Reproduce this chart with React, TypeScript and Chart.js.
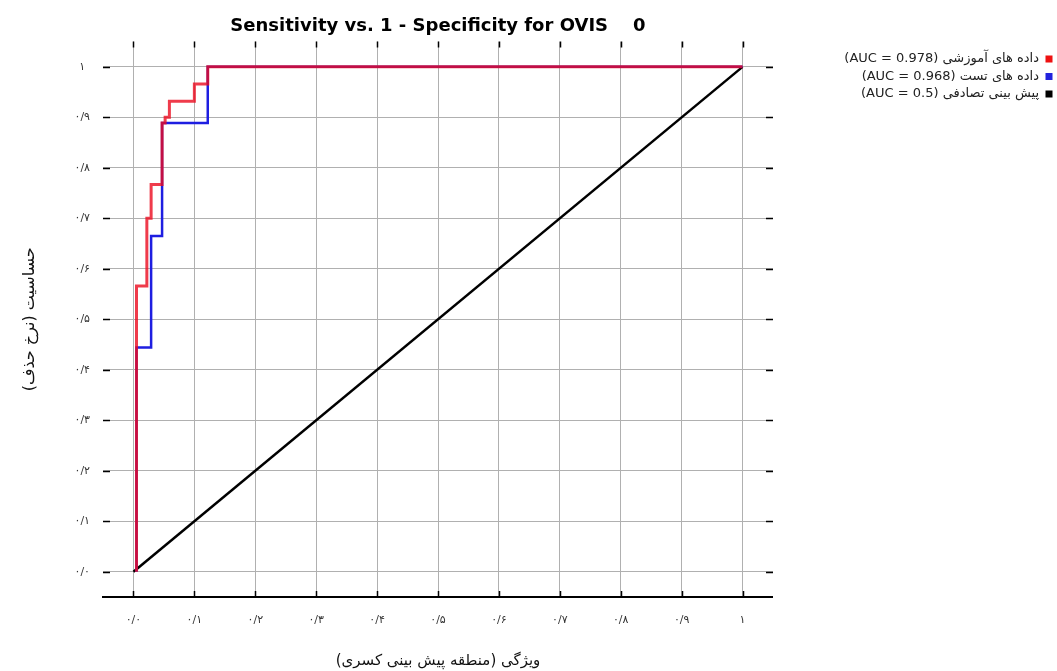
import React, { useEffect, useRef } from 'react';
import { Chart, registerables } from 'chart.js';

Chart.register(...registerables);

const TITLE = 'Sensitivity vs. 1 - Specificity for OVIS    0';
const X_TITLE = 'ویژگی (منطقه پیش بینی کسری)';
const Y_TITLE = 'حساسیت (نرخ حذف)';

const TICK_VALUES = [0, 0.1, 0.2, 0.3, 0.4, 0.5, 0.6, 0.7, 0.8, 0.9, 1];
const TICK_LABELS = ['۰/۰', '۰/۱', '۰/۲', '۰/۳', '۰/۴', '۰/۵', '۰/۶', '۰/۷', '۰/۸', '۰/۹', '۱'];

const SERIES_NAMES = ['داده های آموزشی', 'داده های تست', 'پیش بینی تصادفی'];
const AUC_VALUES = ['0.978', '0.968', '0.5'];

// training ROC (1 - specificity, sensitivity)
const TRAIN_FPR = [0.005, 0.005, 0.022, 0.022, 0.029, 0.029, 0.047, 0.047, 0.052, 0.052, 0.059, 0.059, 0.100, 0.100, 0.122, 0.122, 1.0];
const TRAIN_TPR = [0.0, 0.566, 0.566, 0.700, 0.700, 0.767, 0.767, 0.889, 0.889, 0.900, 0.900, 0.932, 0.932, 0.966, 0.966, 1.0, 1.0];

// test ROC
const TEST_FPR = [0.005, 0.005, 0.029, 0.029, 0.047, 0.047, 0.122, 0.122, 1.0];
const TEST_TPR = [0.0, 0.444, 0.444, 0.665, 0.665, 0.889, 0.889, 1.0, 1.0];

// random prediction
const RANDOM_FPR = [0, 1];
const RANDOM_TPR = [0, 1];

const LINE_COLORS = ['rgba(235, 10, 30, 0.8)', 'rgb(30, 30, 225)', 'rgb(0, 0, 0)'];
const BOX_COLORS = ['#ee1111', '#2222dd', '#000000'];

const W = 1057;
const H = 671;
const PLOT_LEFT = 103;
const PLOT_RIGHT = 773;
const PLOT_BOTTOM = 597;

const toPoints = (xs: number[], ys: number[]) => xs.map((x, i) => ({ x, y: ys[i] }));

const setTicks = (scale: any) => {
  scale.ticks = TICK_VALUES.map((v) => ({ value: v }));
};

const tickMarks = {
  id: 'tickMarks',
  afterDraw(chart: any) {
    const { ctx, chartArea } = chart;
    const { left, right, top, bottom } = chartArea;
    const xs = chart.scales.x;
    const ys = chart.scales.y;
    ctx.save();
    ctx.strokeStyle = '#000';
    ctx.lineWidth = 1.5;
    ctx.beginPath();
    TICK_VALUES.forEach((v) => {
      const px = Math.round(xs.getPixelForValue(v)) + 0.5;
      ctx.moveTo(px, bottom);
      ctx.lineTo(px, bottom - 6);
      ctx.moveTo(px, top);
      ctx.lineTo(px, top + 6);
      const py = Math.round(ys.getPixelForValue(v)) + 0.5;
      ctx.moveTo(left, py);
      ctx.lineTo(left + 7, py);
      ctx.moveTo(right, py);
      ctx.lineTo(right - 7, py);
    });
    ctx.stroke();
    ctx.lineWidth = 2;
    ctx.beginPath();
    ctx.moveTo(left - 1, bottom);
    ctx.lineTo(right, bottom);
    ctx.stroke();
    ctx.restore();
  },
};

export default function App() {
  const ref = useRef<HTMLCanvasElement | null>(null);

  useEffect(() => {
    if (!ref.current) return;
    const chart = new Chart(ref.current, {
      type: 'line',
      data: {
        datasets: [
          {
            label: `${SERIES_NAMES[0]} (AUC = ${AUC_VALUES[0]})`,
            data: toPoints(TRAIN_FPR, TRAIN_TPR),
            borderColor: LINE_COLORS[0],
            backgroundColor: BOX_COLORS[0],
            borderWidth: 3,
          },
          {
            label: `${SERIES_NAMES[1]} (AUC = ${AUC_VALUES[1]})`,
            data: toPoints(TEST_FPR, TEST_TPR),
            borderColor: LINE_COLORS[1],
            backgroundColor: BOX_COLORS[1],
            borderWidth: 2.5,
          },
          {
            label: `${SERIES_NAMES[2]} (AUC = ${AUC_VALUES[2]})`,
            data: toPoints(RANDOM_FPR, RANDOM_TPR),
            borderColor: LINE_COLORS[2],
            backgroundColor: BOX_COLORS[2],
            borderWidth: 2.5,
          },
        ],
      },
      options: {
        animation: false,
        responsive: true,
        maintainAspectRatio: false,
        layout: { padding: 0 },
        elements: {
          point: { radius: 0, hoverRadius: 0 },
          line: { tension: 0, fill: false },
        },
        plugins: {
          tooltip: { enabled: false },
          title: {
            display: true,
            text: TITLE,
            fullSize: false,
            color: '#000',
            font: { family: 'DejaVu Sans, sans-serif', size: 18, weight: 'bold' },
            padding: { top: 16, bottom: 4 },
          },
          legend: {
            position: 'right',
            align: 'start',
            rtl: true,
            textDirection: 'rtl',
            maxWidth: 280,
            title: {
              display: true,
              text: ' ',
              font: { size: 10 },
              padding: { top: 36, bottom: 0 },
            },
            labels: {
              boxWidth: 7,
              boxHeight: 7,
              padding: 4.5,
              color: '#222',
              font: { family: 'DejaVu Sans, sans-serif', size: 13 },
              generateLabels: (c: any) =>
                Chart.defaults.plugins.legend.labels.generateLabels(c).map((l: any, i: number) => ({
                  ...l,
                  fillStyle: BOX_COLORS[i],
                  strokeStyle: BOX_COLORS[i],
                  lineWidth: 0,
                })),
            },
          },
        },
        scales: {
          x: {
            type: 'linear',
            min: -0.05,
            max: 1.05,
            afterBuildTicks: setTicks,
            afterFit: (s: any) => {
              s.height = H - PLOT_BOTTOM;
            },
            grid: { color: '#b0b0b0', lineWidth: 1, drawTicks: false },
            border: { display: false },
            ticks: {
              padding: 17,
              color: '#333',
              font: { family: 'DejaVu Sans, sans-serif', size: 11 },
              maxRotation: 0,
              autoSkip: false,
              callback: (_v: any, i: number) => TICK_LABELS[i],
            },
            title: {
              display: true,
              text: X_TITLE,
              color: '#111',
              font: { family: 'DejaVu Sans, sans-serif', size: 15 },
              padding: { top: 0, bottom: 1 },
            },
          },
          y: {
            type: 'linear',
            min: -0.05,
            max: 1.05,
            afterBuildTicks: setTicks,
            afterFit: (s: any) => {
              s.width = PLOT_LEFT;
            },
            grid: { color: '#b0b0b0', lineWidth: 1, drawTicks: false },
            border: { display: false },
            ticks: {
              padding: 13,
              crossAlign: 'center',
              color: '#333',
              font: { family: 'DejaVu Sans, sans-serif', size: 11 },
              autoSkip: false,
              callback: (_v: any, i: number) => TICK_LABELS[i],
            },
            title: {
              display: true,
              text: Y_TITLE,
              color: '#111',
              font: { family: 'DejaVu Sans, sans-serif', size: 16 },
              padding: { top: 20, bottom: 0 },
            },
          },
          y2: {
            type: 'linear',
            position: 'right',
            display: true,
            grid: { display: false },
            border: { display: false },
            ticks: { display: false },
            afterFit: (s: any) => {
              const lw = s.chart.legend ? s.chart.legend.width : 0;
              s.width = Math.max(0, W - lw - PLOT_RIGHT);
            },
          },
        },
      },
      plugins: [tickMarks],
    } as any);
    return () => chart.destroy();
  }, []);

  return (
    <div style={{ position: 'absolute', left: 0, top: 0, width: W, height: H, background: '#fff' }}>
      <canvas ref={ref} />
    </div>
  );
}
